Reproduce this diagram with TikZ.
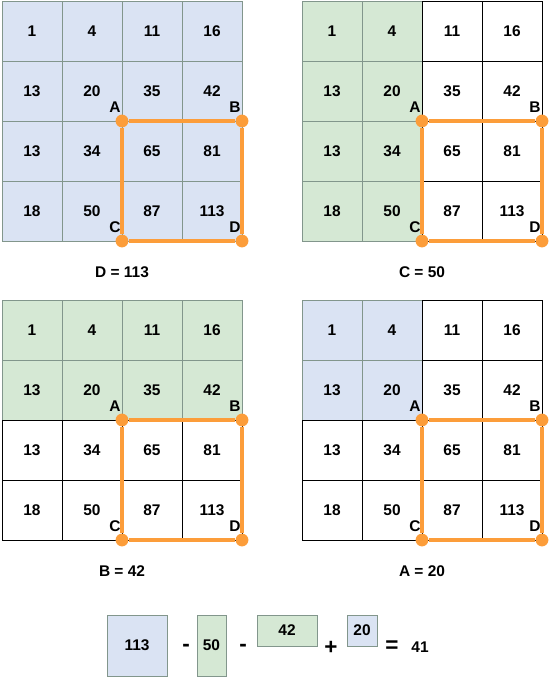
\documentclass[tikz,border=0pt]{standalone}
\usepackage{fontspec}
\setmainfont{Liberation Sans}
\usetikzlibrary{positioning}

\definecolor{cellblue}{RGB}{218,227,243}
\definecolor{cellgreen}{RGB}{213,232,212}
\definecolor{gridgray}{RGB}{130,150,140}
\definecolor{markorange}{RGB}{252,157,58}

\tikzset{
  cell/.style={minimum size=1.5cm, inner sep=0pt, outer sep=0pt, line width=0.7pt},
  dot/.style={circle, fill=markorange, minimum size=0.32cm, inner sep=0pt},
  frame/.style={markorange, line width=2.3pt},
  ptlabel/.style={anchor=south east, inner sep=0pt},
  caption/.style={inner sep=1pt},
  sign/.style={font=\bfseries\fontsize{16}{18}\selectfont, inner sep=0pt}
}

% one 4x4 prefix-sum grid: ox, oy, name, shaded cols, shaded rows, shade, caption
\newcommand{\prefixgrid}[7]{%
  \foreach \row/\vals in {0/{1,4,11,16},1/{13,20,35,42},2/{13,34,65,81},3/{18,50,87,113}} {
    \foreach \v [count=\col from 0] in \vals {
      \def\cellfill{white}\def\celldraw{black}%
      \ifnum\col<#4 \ifnum\row<#5 \def\cellfill{#6}\def\celldraw{gridgray}\fi\fi
      \node[cell, fill=\cellfill, draw=\celldraw] (#3-\row-\col) at (#1+30+60*\col, #2+30+60*\row) {\v};
    }
  }
  % corners of the query rectangle
  \node[dot] (#3A) at (#3-2-2.north west) {};
  \node[dot] (#3B) at (#3-2-3.north east) {};
  \node[dot] (#3C) at (#3-3-2.south west) {};
  \node[dot] (#3D) at (#3-3-3.south east) {};
  \draw[frame] (#3A) -- (#3B) -- (#3D) -- (#3C) -- (#3A);
  \node[ptlabel] (#3-labA) at ([shift={(-0.03cm,0.2cm)}]#3A.center) {A};
  \node[ptlabel] (#3-labB) at ([shift={(-0.03cm,0.2cm)}]#3B.center) {B};
  \node[ptlabel] (#3-labC) at ([shift={(-0.03cm,0.2cm)}]#3C.center) {C};
  \node[ptlabel] (#3-labD) at ([shift={(-0.03cm,0.2cm)}]#3D.center) {D};
  \node[caption] (#3-cap) at ([yshift=-0.77cm]#3-3-1.south east) {#7};
}

\begin{document}
\begin{tikzpicture}[x=0.025cm, y=-0.025cm, every node/.style={font=\bfseries\fontsize{11}{13}\selectfont}]
  \useasboundingbox (0,0) rectangle (558,678);

  % the four grids
  \prefixgrid{2}{1}{gd}{4}{4}{cellblue}{D = 113}
  \prefixgrid{302}{1}{gc}{2}{4}{cellgreen}{C = 50}
  \prefixgrid{2}{300}{gb}{4}{2}{cellgreen}{B = 42}
  \prefixgrid{302}{300}{ga}{2}{2}{cellblue}{A = 20}

  % result: D - C - B + A
  \node[cell, fill=cellblue, draw=gridgray, minimum width=1.5cm, minimum height=1.525cm] (sumD) at (137,645.5) {113};
  \node[sign] (minusC) at (186,648) {-};
  \node[cell, fill=cellgreen, draw=gridgray, minimum width=0.725cm, minimum height=1.525cm] (sumC) at (211.5,645.5) {50};
  \node[sign] (minusB) at (243,648) {-};
  \node[cell, fill=cellgreen, draw=gridgray, minimum width=1.5cm, minimum height=0.775cm] (sumB) at (287,630.5) {42};
  \node[sign] (plusA) at (331,648) {+};
  \node[cell, fill=cellblue, draw=gridgray, minimum width=0.75cm, minimum height=0.775cm] (sumA) at (362,630.5) {20};
  \node[sign] (equals) at (392,647) {=};
  \node (result) at (420,647) {41};
\end{tikzpicture}
\end{document}
